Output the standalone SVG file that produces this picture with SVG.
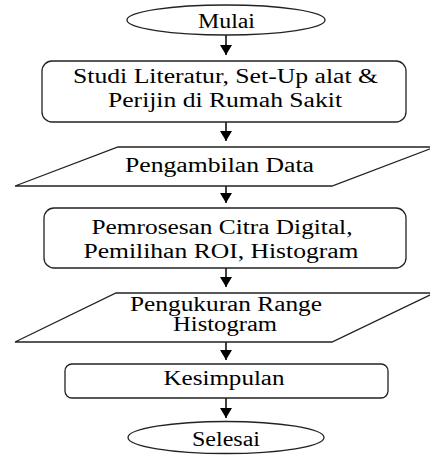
<svg xmlns="http://www.w3.org/2000/svg" width="430" height="455" viewBox="0 0 430 455">
<defs>
<marker id="ah" markerWidth="11" markerHeight="12" refX="10" refY="6" orient="auto" markerUnits="userSpaceOnUse" viewBox="0 0 11 12">
<path d="M0,0 L10,6 L0,12 Z" fill="#000"/>
</marker>
<style>
.s{fill:#fff;stroke:#222;stroke-width:1.3}
.t{font-family:"Liberation Serif","Times New Roman",serif;font-size:20px;fill:#000;text-anchor:middle}
.c{stroke:#000;stroke-width:1.5;fill:none}
</style>
</defs>
<rect width="430" height="455" fill="#fff"/>
<g id="connectors">
<line class="c" x1="226" y1="35" x2="226" y2="55" marker-end="url(#ah)"/>
<line class="c" x1="226" y1="122" x2="226" y2="141" marker-end="url(#ah)"/>
<line class="c" x1="226" y1="186" x2="226" y2="203" marker-end="url(#ah)"/>
<line class="c" x1="226" y1="268" x2="226" y2="287" marker-end="url(#ah)"/>
<line class="c" x1="226" y1="342" x2="226" y2="360" marker-end="url(#ah)"/>
<line class="c" x1="226" y1="398" x2="226" y2="418" marker-end="url(#ah)"/>
</g>
<g id="mulai">
<ellipse class="s" cx="226" cy="20" rx="99" ry="15"/>
<text class="t" x="226.5" y="28" textLength="57" lengthAdjust="spacingAndGlyphs">Mulai</text>
</g>
<g id="studi">
<rect class="s" x="42" y="61" width="364" height="61" rx="10"/>
<text class="t" x="225.5" y="83" textLength="305" lengthAdjust="spacingAndGlyphs">Studi Literatur, Set-Up alat &amp;</text>
<text class="t" x="225" y="107" textLength="234" lengthAdjust="spacingAndGlyphs">Perijin  di Rumah Sakit</text>
</g>
<g id="pengambilan">
<polygon class="s" points="118,147 435,147 332,186 15,186"/>
<text class="t" x="219.5" y="172" textLength="189" lengthAdjust="spacingAndGlyphs">Pengambilan Data</text>
</g>
<g id="pemrosesan">
<rect class="s" x="44" y="208" width="362" height="60" rx="10"/>
<text class="t" x="222" y="234" textLength="261" lengthAdjust="spacingAndGlyphs">Pemrosesan Citra Digital,</text>
<text class="t" x="221" y="258" textLength="275" lengthAdjust="spacingAndGlyphs">Pemilihan ROI, Histogram</text>
</g>
<g id="pengukuran">
<polygon class="s" points="116,293 434,293 332,342 15,342"/>
<text class="t" x="226" y="311" textLength="192" lengthAdjust="spacingAndGlyphs">Pengukuran Range</text>
<text class="t" x="225" y="331" textLength="104" lengthAdjust="spacingAndGlyphs">Histogram</text>
</g>
<g id="kesimpulan">
<rect class="s" x="65" y="364" width="323" height="34" rx="7"/>
<text class="t" x="224" y="385" textLength="121" lengthAdjust="spacingAndGlyphs">Kesimpulan</text>
</g>
<g id="selesai">
<ellipse class="s" cx="226" cy="437.5" rx="98" ry="16"/>
<text class="t" x="226" y="446" textLength="68" lengthAdjust="spacingAndGlyphs">Selesai</text>
</g>
</svg>
